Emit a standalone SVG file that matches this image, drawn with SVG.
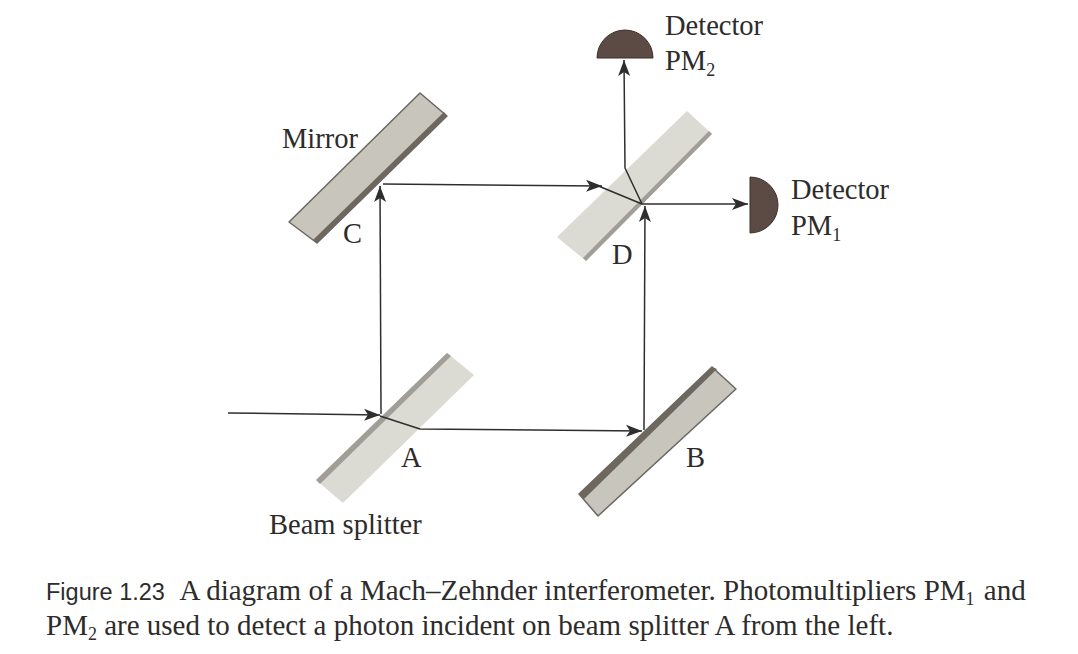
<svg xmlns="http://www.w3.org/2000/svg" width="1078" height="654" viewBox="0 0 1078 654">
<style>
text{font-family:"Liberation Serif","Times New Roman",serif;font-size:28.5px;fill:#2e2b2b}
.cap{font-size:29px}
.sans{font-family:"Liberation Sans",Arial,sans-serif;font-size:23.5px}
.sub{font-size:18px}
.ray{fill:none;stroke:#2f2e2c;stroke-width:1.5;stroke-linejoin:round}
.det{fill:#5c4a44;stroke:#3a302c;stroke-width:1}
.mir{fill:#c8c6bc;stroke:#6a675f;stroke-width:1.5;stroke-linejoin:round}
.spl{fill:#dcdbd3}
</style>
<defs>
<marker id="arr" markerUnits="userSpaceOnUse" markerWidth="18" markerHeight="14" refX="16" refY="7" orient="auto">
<path d="M0,1 L16,7 L0,13 L4,7 Z" fill="#2f2e2c"/>
</marker>
</defs>
<rect width="1078" height="654" fill="#fff"/>
<g id="mirror-c">
<path class="mir" d="M420,93 L447,116 L317,243 L289,222 Z"/>
<path d="M444,112 L447,116 L317,243 L313,240 Z" fill="#6e675f"/>
<text x="282" y="148">Mirror</text>
<text x="343" y="243">C</text>
</g>
<g id="splitter-d">
<path class="spl" d="M687,111 L712,134 L586,261 L557,237 Z"/>
<path d="M709,131 L712,134 L586,261 L583,258 Z" fill="#a09e96"/>
<text x="612" y="264">D</text>
</g>
<g id="splitter-a">
<path class="spl" d="M447,353 L474,375 L343,503 L316,480 Z"/>
<path d="M447,353 L451,356 L320,484 L316,480 Z" fill="#a09e96"/>
<text x="401" y="467">A</text>
</g>
<g id="mirror-b">
<path class="mir" d="M712,367 L736,389 L598,516 L579,494 Z"/>
<path d="M712,367 L717,369 L584,499 L579,494 Z" fill="#6e675f"/>
<text x="686" y="467">B</text>
</g>
<g id="detector-pm2">
<path class="det" d="M597,58 A28,28 0 0 1 653,58 Z"/>
<text x="665" y="35">Detector</text>
<text x="665" y="70">PM<tspan class="sub" dy="6">2</tspan></text>
</g>
<g id="detector-pm1">
<path class="det" d="M750,177 A28,28 0 0 1 750,233 Z"/>
<text x="791" y="199">Detector</text>
<text x="791" y="235">PM<tspan class="sub" dy="6">1</tspan></text>
</g>
<g id="connectors">
<path class="ray" d="M228,413 L380,415" marker-end="url(#arr)"/>
<path class="ray" d="M381,414 L380,186" marker-end="url(#arr)"/>
<path class="ray" d="M380,416 L420,429 L642,431" marker-end="url(#arr)"/>
<path class="ray" d="M383,184 L602,186" marker-end="url(#arr)"/>
<path class="ray" d="M596,185 L642,204"/>
<path class="ray" d="M642,204 L625,168 L624,60" marker-end="url(#arr)"/>
<path class="ray" d="M642,204 L748,204" marker-end="url(#arr)"/>
<path class="ray" d="M644,430 L645,206" marker-end="url(#arr)"/>
</g>
<text id="label-beam" x="269" y="534">Beam splitter</text>
<g id="caption">
<text class="cap" x="46" y="600"><tspan class="sans">Figure 1.23</tspan><tspan dx="9"> A diagram of a Mach–Zehnder interferometer. Photomultipliers PM</tspan><tspan class="sub" dy="5">1</tspan><tspan dx="2" dy="-5"> and</tspan></text>
<text class="cap" x="46" y="635">PM<tspan class="sub" dy="5">2</tspan><tspan dy="-5"> are used to detect a photon incident on beam splitter A from the left.</tspan></text>
</g>
</svg>
